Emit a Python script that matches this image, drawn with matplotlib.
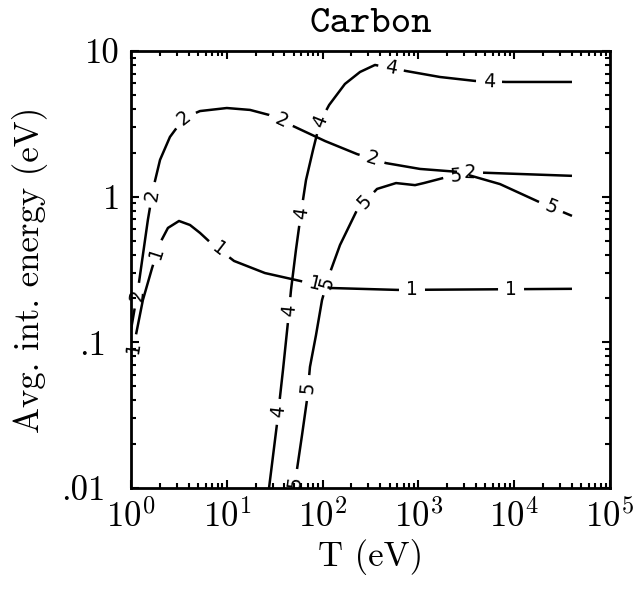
import numpy as np
import matplotlib
matplotlib.use("Agg")
import matplotlib.pyplot as plt
from matplotlib.ticker import FixedLocator, NullFormatter

plt.rcParams['font.family'] = 'cmr10'
plt.rcParams['mathtext.fontset'] = 'cm'
plt.rcParams['axes.formatter.use_mathtext'] = True

# curve data: T (eV) vs average internal energy (eV)
T1 = [1.0, 1.10, 1.33, 1.66, 2.01, 2.43, 3.17, 4.13, 5.25, 7.01, 11.9, 25.0, 58.1, 122, 612, 40100]
E1 = [0.070, 0.104, 0.195, 0.324, 0.481, 0.610, 0.681, 0.639, 0.564, 0.473, 0.362, 0.299, 0.264, 0.236, 0.229, 0.233]
lab1 = [1.07, 1.87, 8.3, 83, 857, 9270]

T2 = [1.0, 1.13, 1.21, 1.50, 1.70, 2.01, 2.55, 3.57, 5.25, 10.0, 17.5, 27.6, 51.5, 106, 229, 459, 1040, 2590, 4840, 40100]
E2 = [0.122, 0.195, 0.256, 0.692, 1.13, 1.79, 2.57, 3.47, 3.87, 4.06, 3.94, 3.64, 3.01, 2.41, 1.96, 1.70, 1.55, 1.48, 1.46, 1.39]
lab2 = [1.15, 1.66, 3.57, 36.8, 328, 3460]

T4 = [27.6, 33.4, 38.6, 43.6, 46.8, 52.7, 59.5, 67.1, 79.4, 94.0, 117, 171, 246, 352, 518, 742, 1680, 3900, 8200, 40100]
E4 = [0.010, 0.0275, 0.0647, 0.140, 0.229, 0.431, 0.773, 1.30, 2.09, 3.26, 4.26, 5.94, 7.18, 8.02, 7.64, 7.29, 6.63, 6.23, 6.13, 6.13]
lab4 = [34.5, 44.7, 59.5, 94.5, 518, 5460]

T5 = [50.3, 54.1, 61.0, 68.7, 73.8, 85.3, 98.6, 117, 152, 229, 370, 584, 922, 1140, 2040, 3300, 7110, 19100, 40100]
E5 = [0.010, 0.0135, 0.0231, 0.0402, 0.0678, 0.112, 0.195, 0.290, 0.466, 0.811, 1.13, 1.24, 1.20, 1.24, 1.37, 1.41, 1.22, 0.906, 0.738]
lab5 = [51.5, 70.5, 111, 277, 2470, 24200]

xticks = [1e0, 1e1, 1e2, 1e3, 1e4, 1e5]
xticklabels = [r'$10^{%d}$' % k for k in range(6)]
yticks = [0.01, 0.1, 1, 10]
yticklabels = ['.01', '.1', '1', '10']


def labelled_curve(ax, T, E, text, label_T, gap=13):
    # draw a line broken at the label positions, labels rotated along the curve
    T = np.asarray(T, float)
    E = np.asarray(E, float)
    xy = ax.transData.transform(np.column_stack([T, E]))
    s = np.concatenate([[0], np.cumsum(np.hypot(*np.diff(xy, axis=0).T))])
    lt, le = np.log10(T), np.log10(E)
    s_lab = np.sort(np.interp(np.log10(label_T), lt, s))
    edges = [0.0]
    for c in s_lab:
        edges += [c - gap, c + gap]
    edges.append(s[-1])
    for a, b in zip(edges[::2], edges[1::2]):
        a, b = max(a, 0.0), min(b, s[-1])
        if b <= a:
            continue
        inner = (s > a) & (s < b)
        ss = np.concatenate([[a], s[inner], [b]])
        ax.plot(10 ** np.interp(ss, s, lt), 10 ** np.interp(ss, s, le),
                color='k', lw=1.8, solid_capstyle='butt')
    for c in s_lab:
        dx = np.interp(c + 5, s, xy[:, 0]) - np.interp(c - 5, s, xy[:, 0])
        dy = np.interp(c + 5, s, xy[:, 1]) - np.interp(c - 5, s, xy[:, 1])
        ang = np.degrees(np.arctan2(dy, dx))
        if ang > 90:
            ang -= 180
        elif ang < -90:
            ang += 180
        ax.text(10 ** np.interp(c, s, lt), 10 ** np.interp(c, s, le), text,
                rotation=ang, rotation_mode='anchor', ha='center', va='center',
                fontsize=13.5, family='DejaVu Sans')


fig = plt.figure(figsize=(6.41, 5.90), dpi=100)
ax = fig.add_axes([131 / 641, 1 - 488 / 590, 479 / 641, 437 / 590])
ax.set_xscale('log')
ax.set_yscale('log')
ax.set_xlim(1, 1e5)
ax.set_ylim(0.01, 10)

ax.xaxis.set_major_locator(FixedLocator(xticks))
ax.set_xticklabels(xticklabels)
ax.yaxis.set_major_locator(FixedLocator(yticks))
ax.set_yticklabels(yticklabels)
xminor = [m * d for d in xticks[:-1] for m in range(2, 10)]
yminor = [m * d for d in yticks[:-1] for m in range(2, 10)]
ax.xaxis.set_minor_locator(FixedLocator(xminor))
ax.yaxis.set_minor_locator(FixedLocator(yminor))
ax.xaxis.set_minor_formatter(NullFormatter())
ax.yaxis.set_minor_formatter(NullFormatter())

ax.tick_params(which='both', direction='in', top=True, right=True, width=1.5, labelsize=25)
ax.tick_params(which='major', length=6)
ax.tick_params(which='minor', length=3.5)
ax.tick_params(axis='x', pad=8)
ax.tick_params(axis='y', pad=8)
for t, lab in zip(ax.yaxis.get_major_ticks(), yticklabels):
    if lab.startswith('.'):
        t.set_pad(18)
for sp in ax.spines.values():
    sp.set_linewidth(2)

ax.set_xlabel('T (eV)', fontsize=25, labelpad=4)
ax.set_ylabel('Avg. int. energy (eV)', fontsize=25, labelpad=10)
ax.set_title('Carbon', fontsize=28, family='cmtt10', pad=14)

labelled_curve(ax, T1, E1, '1', lab1)
labelled_curve(ax, T2, E2, '2', lab2)
labelled_curve(ax, T4, E4, '4', lab4)
labelled_curve(ax, T5, E5, '5', lab5)

fig.savefig('out.png', dpi=100)
